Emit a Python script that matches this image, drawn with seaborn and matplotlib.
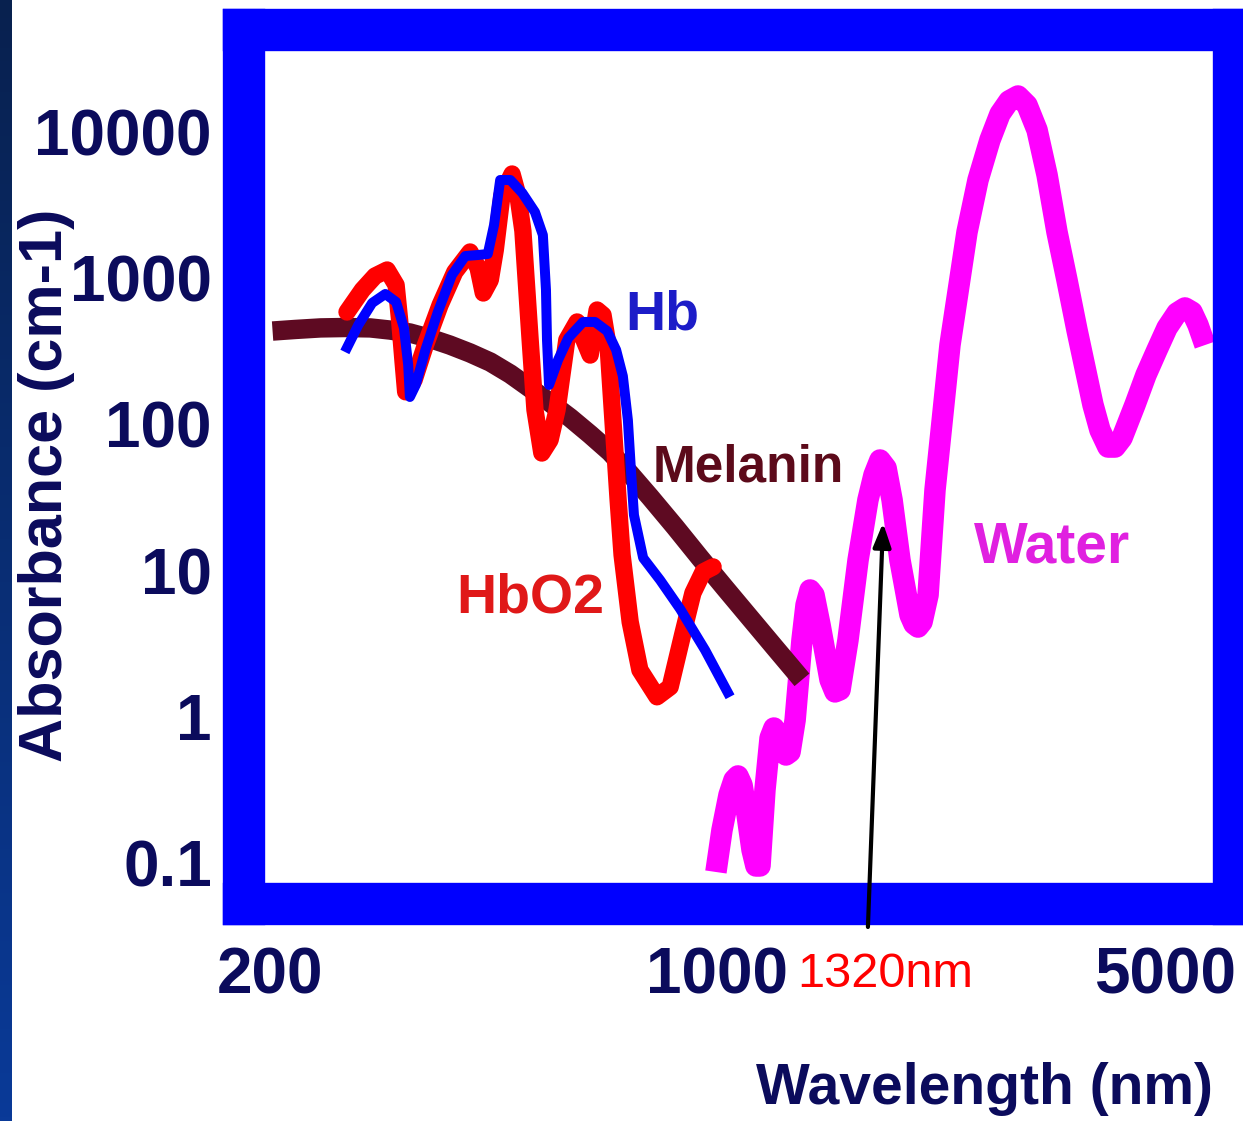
import numpy as np
import matplotlib
matplotlib.use('Agg')
import matplotlib.pyplot as plt
import seaborn as sns
from matplotlib.colors import LinearSegmentedColormap
from matplotlib.ticker import FixedLocator, FixedFormatter, NullLocator

# absorbance spectra (wavelength in nm, absorbance in cm-1)
hb_wl = [262, 275, 289, 303, 315, 324, 329, 331, 338, 350, 366, 385, 404, 423, 438, 448, 458, 475, 496, 519,
         534, 540, 542, 546, 564, 585, 617, 644, 673, 695, 712, 725, 733, 741, 766, 814, 875, 957, 1047]
hb_abs = [313, 479, 677, 780, 688, 457, 255, 154, 186, 323, 587, 1052, 1418, 1441, 1464, 2311, 4696, 4696, 3825, 2836,
          1974, 831, 378, 186, 276, 390, 502, 502, 435, 323, 214, 107, 48.8, 24.0, 12.2, 8.62, 5.46, 2.86, 1.37]

hbo2_wl = [264, 279, 292, 305, 315, 319, 323, 326, 336, 350, 369, 389, 411, 423, 431, 442, 450, 461, 478, 488,
           497, 510, 519, 532, 548, 562, 582, 604, 619, 633, 649, 663, 675, 687, 700, 710, 731, 757, 805, 844,
           884, 916, 950, 985]
hbo2_abs = [587, 831, 1035, 1138, 898, 518, 267, 167, 201, 349, 656, 1103, 1511, 1174, 792, 972, 1559, 3707, 5161, 3707,
            2103, 384, 126, 63.7, 78.2, 126, 378, 502, 378, 298, 606, 560, 349, 107, 30.4, 12.8, 4.45, 2.09, 1.37, 1.60,
            3.74, 7.03, 9.78, 10.6]

mel_wl = [202, 219, 240, 262, 287, 308, 331, 356, 382, 411, 442, 475, 510, 548, 589, 633, 680, 731, 785, 859,
          940, 1028, 1125, 1231, 1356]
mel_abs = [435, 446, 457, 460, 457, 442, 422, 387, 349, 308, 267, 221, 177, 141, 111, 85.3, 64.7, 45.8, 31.9, 19.9,
           12.2, 7.60, 4.74, 2.96, 1.79]

water_wl = [995, 1017, 1043, 1062, 1077, 1093, 1113, 1133, 1149, 1166, 1187, 1209, 1226, 1253, 1280, 1299, 1323,
            1356, 1376, 1396, 1416, 1447, 1500, 1527, 1555, 1600, 1659, 1719, 1757, 1795, 1835, 1875, 1929, 2000,
            2029, 2058, 2088, 2134, 2188, 2309, 2455, 2554, 2666, 2764, 2855, 2949, 3046, 3158, 3274, 3393, 3517,
            3646, 3862, 3960, 4076, 4180, 4286, 4491, 4673, 4862, 5040, 5224, 5377, 5514, 5634, 5778]
water_abs = [0.0868, 0.168, 0.292, 0.370, 0.394, 0.342, 0.213, 0.123, 0.0954, 0.0954, 0.316, 0.716, 0.838, 0.716,
             0.548, 0.574, 0.951, 3.35, 5.82, 7.37, 6.81, 4.25, 1.79, 1.48, 1.53, 3.35, 11.8, 30.4, 45.1, 57.1, 50.3,
             30.4, 11.8, 4.97, 4.31, 4.11, 4.45, 6.81, 35.6, 349, 2070, 4696, 8815, 13280, 16300, 17630, 15300,
             10320, 5080, 2070, 972, 442, 136, 91.5, 70.0, 70.0, 80.7, 136, 218, 323, 457, 578, 626, 587, 479, 349]

x_ticks = [200, 1000, 5000]
x_labels = ['200', '1000', '5000']
y_ticks = [0.1, 1, 10, 100, 1000, 10000]
y_labels = ['0.1', '1', '10', '100', '1000', '10000']

# annotation arrow: tail below the axis, tip on the water peak
arrow_tail = (1719, 0.0365)
arrow_tip = (1815, 21.2)

sns.set_theme(style='white')
plt.rcParams['font.family'] = ['Liberation Sans', 'DejaVu Sans']

navy = '#0b0b5c'
fig = plt.figure(figsize=(12.43, 11.21), dpi=100)
fig.patch.set_facecolor('white')

# dark slide strip on the left edge
strip = fig.add_axes([0, 0, 12 / 1243, 1])
strip.imshow(np.linspace(0, 1, 256)[:, None], aspect='auto',
             cmap=LinearSegmentedColormap.from_list('slide', ['#08214f', '#0a3a98']))
strip.axis('off')

ax = fig.add_axes([0.19590, 0.19402, 0.79686, 0.77966])

sns.lineplot(x=water_wl, y=water_abs, ax=ax, color='#ff00ff', lw=15.5, sort=False, estimator=None,
             solid_capstyle='butt', solid_joinstyle='round')
sns.lineplot(x=mel_wl, y=mel_abs, ax=ax, color='#5e0a22', lw=14, sort=False, estimator=None,
             solid_capstyle='butt', solid_joinstyle='round')
sns.lineplot(x=hbo2_wl, y=hbo2_abs, ax=ax, color='#ff0000', lw=12.5, sort=False, estimator=None,
             solid_capstyle='round', solid_joinstyle='round')
sns.lineplot(x=hb_wl, y=hb_abs, ax=ax, color='#0000ff', lw=7.2, sort=False, estimator=None,
             solid_capstyle='butt', solid_joinstyle='round')

ax.set_xscale('log')
ax.set_yscale('log')
ax.set_xlim(181.95, 6413)
ax.set_ylim(0.05284, 50240)

ax.xaxis.set_major_locator(FixedLocator(x_ticks))
ax.xaxis.set_major_formatter(FixedFormatter(x_labels))
ax.xaxis.set_minor_locator(NullLocator())
ax.yaxis.set_major_locator(FixedLocator(y_ticks))
ax.yaxis.set_major_formatter(FixedFormatter(y_labels))
ax.yaxis.set_minor_locator(NullLocator())

for lbl in ax.get_xticklabels() + ax.get_yticklabels():
    lbl.set_fontweight('bold')
ax.tick_params(axis='x', length=0, labelsize=46, labelcolor=navy, pad=31)
ax.tick_params(axis='y', length=0, labelsize=46, labelcolor=navy, pad=22.7)

for side in ['left', 'right', 'top', 'bottom']:
    ax.spines[side].set_visible(True)
    ax.spines[side].set_color('#0000ff')
    ax.spines[side].set_linewidth(30.5)
    ax.spines[side].set_capstyle('projecting')
ax.grid(False)

ax.set_xlabel('Wavelength (nm)', fontsize=41, fontweight='bold', color=navy)
ax.xaxis.set_label_coords(0.7486, -0.1814)
ax.set_ylabel('Absorbance (cm-1)', fontsize=44, fontweight='bold', color=navy)
ax.yaxis.set_label_coords(-0.1701, 0.4788)

# curve names
ax.text(0.4225, 0.6573, 'Hb', transform=ax.transAxes, ha='center', va='baseline',
        fontsize=40, fontweight='bold', color='#1c1cc8')
ax.text(0.5093, 0.4834, 'Melanin', transform=ax.transAxes, ha='center', va='baseline',
        fontsize=37, fontweight='bold', color='#5c0a1a')
ax.text(0.2893, 0.3324, 'HbO2', transform=ax.transAxes, ha='center', va='baseline',
        fontsize=40, fontweight='bold', color='#e01818')
ax.text(0.8163, 0.3896, 'Water', transform=ax.transAxes, ha='center', va='baseline',
        fontsize=41, fontweight='bold', color='#e020e0')

ax.annotate('', xy=arrow_tip, xytext=arrow_tail, annotation_clip=False, zorder=6,
            arrowprops=dict(arrowstyle='-|>,head_length=1.2,head_width=0.45', lw=3,
                            color='black', shrinkA=0, shrinkB=0))
fig.text(885 / 1243, 1 - 987 / 1121, '1320nm', ha='center', va='baseline', fontsize=35, color='#ff0000')

fig.savefig('out.png', dpi=100)
